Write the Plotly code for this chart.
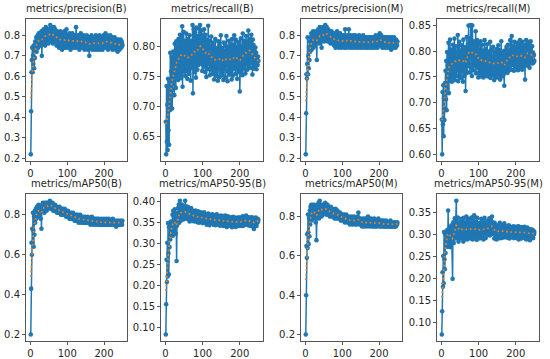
import numpy as np
import plotly.graph_objects as go

titles = ["metrics/precision(B)", "metrics/recall(B)", "metrics/precision(M)", "metrics/recall(M)",
          "metrics/mAP50(B)", "metrics/mAP50-95(B)", "metrics/mAP50(M)", "metrics/mAP50-95(M)"]

epochs = list(range(1, 251))

precision_B = [
0.22,0.43,0.62,0.68,0.74,0.62,0.70,0.66,0.75,0.64,0.72,0.69,0.77,0.73,0.76,0.79,0.72,0.78,0.75,0.80,0.74,0.78,0.81,0.76,0.79,
0.77,0.80,0.75,0.79,0.82,0.70,0.78,0.81,0.76,0.80,0.83,0.77,0.79,0.82,0.75,0.80,0.84,0.78,0.81,0.77,0.83,0.79,0.82,0.76,0.80,
0.83,0.78,0.81,0.85,0.79,0.84,0.80,0.77,0.83,0.81,0.76,0.82,0.79,0.84,0.78,0.80,0.83,0.77,0.81,0.79,0.75,0.82,0.78,0.80,0.76,
0.81,0.78,0.74,0.80,0.77,0.82,0.75,0.79,0.76,0.81,0.73,0.78,0.80,0.75,0.79,0.77,0.82,0.74,0.78,0.76,0.80,0.74,0.83,0.77,0.79,
0.75,0.80,0.76,0.78,0.74,0.81,0.77,0.79,0.73,0.80,0.76,0.78,0.75,0.81,0.77,0.74,0.79,0.76,0.80,0.75,0.78,0.77,0.74,0.84,0.76,
0.79,0.75,0.78,0.74,0.80,0.76,0.78,0.73,0.77,0.79,0.75,0.81,0.76,0.78,0.74,0.79,0.77,0.75,0.80,0.76,0.78,0.73,0.77,0.79,0.75,
0.78,0.74,0.80,0.76,0.77,0.73,0.79,0.75,0.78,0.70,0.76,0.79,0.74,0.77,0.75,0.80,0.76,0.73,0.78,0.75,0.79,0.74,0.77,0.76,0.73,
0.78,0.75,0.80,0.74,0.77,0.76,0.73,0.79,0.75,0.78,0.74,0.76,0.80,0.73,0.77,0.75,0.79,0.74,0.77,0.76,0.73,0.78,0.75,0.80,0.74,
0.77,0.79,0.75,0.81,0.76,0.74,0.78,0.80,0.75,0.77,0.73,0.79,0.76,0.78,0.74,0.77,0.80,0.75,0.78,0.74,0.76,0.79,0.73,0.77,0.75,
0.78,0.74,0.76,0.79,0.75,0.77,0.73,0.76,0.78,0.74,0.77,0.72,0.75,0.78,0.74,0.76,0.73,0.77,0.75,0.78,0.76,0.74,0.77,0.76,0.75]

recall_B = [
0.675,0.621,0.734,0.642,0.703,0.628,0.746,0.661,0.718,0.637,0.741,0.694,0.789,0.702,0.758,0.716,0.783,0.697,0.752,0.728,0.791,0.738,0.772,0.719,0.804,
0.757,0.793,0.731,0.808,0.768,0.749,0.801,0.776,0.744,0.812,0.763,0.787,0.752,0.819,0.771,0.803,0.747,0.814,0.781,0.833,0.733,0.798,0.766,0.824,0.758,
0.792,0.809,0.751,0.803,0.768,0.821,0.759,0.788,0.746,0.812,0.779,0.762,0.806,0.754,0.818,0.773,0.791,0.743,0.809,0.764,0.799,0.782,0.835,0.722,0.803,
0.828,0.768,0.812,0.757,0.823,0.786,0.748,0.831,0.779,0.802,0.761,0.817,0.793,0.769,0.829,0.797,0.776,0.835,0.788,0.814,0.771,0.826,0.801,0.759,0.818,
0.794,0.807,0.766,0.828,0.781,0.803,0.757,0.819,0.788,0.749,0.811,0.776,0.798,0.762,0.834,0.786,0.771,0.809,0.752,0.799,0.783,0.761,0.816,0.769,0.792,
0.754,0.806,0.779,0.763,0.801,0.745,0.787,0.772,0.812,0.758,0.784,0.751,0.797,0.768,0.791,0.743,0.808,0.762,0.779,0.802,0.749,0.793,0.766,0.818,0.757,
0.781,0.797,0.752,0.789,0.771,0.744,0.806,0.763,0.792,0.776,0.748,0.801,0.768,0.817,0.759,0.787,0.742,0.782,0.798,0.761,0.809,0.753,0.784,0.772,0.803,
0.758,0.791,0.745,0.812,0.769,0.751,0.802,0.779,0.763,0.818,0.771,0.793,0.754,0.811,0.783,0.762,0.799,0.746,0.788,0.773,0.807,0.757,0.784,0.801,0.725,
0.789,0.767,0.813,0.758,0.798,0.781,0.752,0.821,0.774,0.792,0.763,0.809,0.786,0.803,0.755,0.794,0.817,0.772,0.801,0.761,0.808,0.779,0.826,0.768,0.803,
0.791,0.812,0.764,0.801,0.783,0.819,0.772,0.796,0.753,0.811,0.778,0.802,0.763,0.793,0.771,0.765,0.798,0.774,0.789,0.762,0.781,0.774,0.769,0.783,0.776]

precision_M = [
0.22,0.42,0.61,0.59,0.66,0.79,0.61,0.70,0.64,0.74,0.68,0.77,0.72,0.79,0.75,0.81,0.73,0.78,0.80,0.76,0.82,0.74,0.79,0.77,0.81,
0.75,0.80,0.78,0.82,0.76,0.68,0.79,0.81,0.77,0.83,0.78,0.80,0.76,0.84,0.79,0.81,0.77,0.83,0.74,0.80,0.82,0.78,0.84,0.79,0.81,
0.77,0.83,0.80,0.85,0.78,0.82,0.80,0.84,0.79,0.81,0.77,0.83,0.80,0.78,0.82,0.79,0.81,0.76,0.80,0.78,0.82,0.77,0.79,0.81,0.76,
0.80,0.78,0.75,0.81,0.77,0.79,0.74,0.80,0.76,0.78,0.82,0.75,0.79,0.77,0.80,0.74,0.78,0.76,0.81,0.75,0.79,0.77,0.74,0.80,0.76,
0.78,0.75,0.80,0.76,0.79,0.74,0.77,0.83,0.75,0.79,0.77,0.74,0.80,0.76,0.78,0.75,0.79,0.83,0.76,0.78,0.74,0.80,0.77,0.75,0.79,
0.76,0.78,0.74,0.80,0.77,0.75,0.79,0.76,0.78,0.74,0.80,0.77,0.75,0.79,0.76,0.78,0.74,0.79,0.77,0.75,0.80,0.76,0.78,0.74,0.79,
0.77,0.75,0.79,0.76,0.78,0.74,0.80,0.77,0.75,0.78,0.76,0.79,0.74,0.77,0.79,0.75,0.78,0.76,0.74,0.79,0.77,0.75,0.78,0.76,0.79,
0.74,0.77,0.79,0.75,0.78,0.76,0.74,0.79,0.77,0.75,0.78,0.76,0.79,0.74,0.77,0.80,0.75,0.78,0.76,0.79,0.74,0.77,0.75,0.78,0.80,
0.76,0.81,0.77,0.79,0.75,0.80,0.76,0.78,0.74,0.79,0.77,0.75,0.78,0.76,0.79,0.74,0.77,0.79,0.75,0.78,0.76,0.74,0.79,0.77,0.75,
0.78,0.76,0.79,0.74,0.77,0.75,0.78,0.73,0.76,0.79,0.75,0.77,0.74,0.78,0.76,0.79,0.75,0.77,0.76,0.74,0.78,0.76,0.77,0.75,0.77]

recall_M = [
0.668,0.601,0.721,0.659,0.734,0.636,0.709,0.667,0.738,0.689,0.762,0.707,0.781,0.686,0.798,0.728,0.772,0.751,0.816,0.719,0.791,0.757,0.822,0.743,0.779,
0.758,0.803,0.741,0.789,0.768,0.812,0.749,0.782,0.761,0.824,0.744,0.793,0.771,0.809,0.752,0.784,0.798,0.763,0.831,0.742,0.792,0.769,0.818,0.751,0.801,
0.773,0.788,0.748,0.811,0.762,0.779,0.803,0.741,0.822,0.768,0.794,0.752,0.807,0.764,0.723,0.799,0.781,0.827,0.758,0.793,0.812,0.771,0.849,0.776,0.803,
0.759,0.824,0.787,0.850,0.768,0.809,0.752,0.849,0.781,0.798,0.763,0.819,0.791,0.772,0.812,0.779,0.838,0.757,0.803,0.786,0.821,0.768,0.797,0.749,0.814,
0.779,0.758,0.802,0.767,0.819,0.751,0.793,0.771,0.812,0.756,0.784,0.801,0.749,0.792,0.769,0.821,0.757,0.781,0.804,0.752,0.788,0.766,0.813,0.759,0.782,
0.751,0.799,0.768,0.791,0.757,0.818,0.748,0.776,0.802,0.761,0.789,0.772,0.753,0.808,0.764,0.783,0.744,0.799,0.771,0.793,0.752,0.781,0.762,0.804,0.749,
0.788,0.769,0.811,0.753,0.782,0.761,0.802,0.745,0.791,0.773,0.819,0.758,0.784,0.751,0.799,0.767,0.792,0.756,0.733,0.781,0.801,0.762,0.789,0.771,0.808,
0.766,0.791,0.758,0.812,0.779,0.798,0.763,0.787,0.772,0.821,0.781,0.803,0.764,0.829,0.788,0.773,0.809,0.779,0.801,0.762,0.818,0.786,0.771,0.808,0.782,
0.797,0.769,0.816,0.781,0.792,0.763,0.811,0.779,0.802,0.768,0.821,0.787,0.772,0.813,0.778,0.799,0.764,0.818,0.789,0.776,0.809,0.771,0.802,0.783,0.745,
0.812,0.779,0.821,0.791,0.803,0.772,0.818,0.788,0.809,0.779,0.801,0.768,0.812,0.786,0.819,0.777,0.798,0.784,0.809,0.776,0.797,0.789,0.778,0.793,0.781]

mAP50_B = [
0.20,0.43,0.66,0.60,0.73,0.66,0.81,0.72,0.64,0.79,0.70,0.82,0.76,0.80,0.83,0.78,0.82,0.84,0.79,0.83,0.81,0.85,0.80,0.83,0.82,
0.84,0.81,0.78,0.83,0.73,0.82,0.85,0.83,0.86,0.82,0.84,0.85,0.81,0.86,0.84,0.83,0.85,0.86,0.82,0.85,0.84,0.86,0.83,0.85,0.84,
0.86,0.84,0.87,0.85,0.83,0.86,0.84,0.85,0.83,0.86,0.84,0.82,0.85,0.83,0.84,0.82,0.85,0.83,0.84,0.82,0.83,0.81,0.84,0.82,0.83,
0.81,0.83,0.82,0.84,0.81,0.83,0.82,0.80,0.83,0.81,0.82,0.80,0.83,0.81,0.82,0.80,0.81,0.83,0.80,0.82,0.81,0.79,0.82,0.80,0.81,
0.80,0.82,0.79,0.81,0.80,0.78,0.81,0.79,0.80,0.78,0.81,0.79,0.80,0.78,0.79,0.81,0.78,0.80,0.79,0.77,0.80,0.78,0.79,0.77,0.80,
0.78,0.79,0.77,0.80,0.78,0.76,0.79,0.77,0.78,0.80,0.77,0.78,0.76,0.79,0.77,0.78,0.76,0.79,0.77,0.78,0.76,0.78,0.77,0.79,0.76,
0.78,0.77,0.76,0.78,0.77,0.79,0.76,0.78,0.77,0.76,0.78,0.77,0.75,0.78,0.76,0.77,0.79,0.76,0.77,0.75,0.78,0.76,0.77,0.78,0.76,
0.77,0.75,0.78,0.76,0.77,0.76,0.78,0.75,0.77,0.76,0.78,0.75,0.77,0.76,0.75,0.77,0.76,0.78,0.75,0.77,0.76,0.75,0.77,0.76,0.78,
0.75,0.77,0.76,0.75,0.77,0.76,0.78,0.75,0.76,0.77,0.75,0.76,0.78,0.76,0.75,0.77,0.76,0.75,0.77,0.76,0.75,0.77,0.76,0.78,0.75,
0.76,0.77,0.75,0.76,0.77,0.75,0.76,0.74,0.77,0.76,0.75,0.77,0.76,0.75,0.77,0.76,0.75,0.76,0.77,0.75,0.76,0.77,0.76,0.75,0.77]

mAP50_95_B = [
0.083,0.155,0.261,0.208,0.301,0.221,0.348,0.276,0.226,0.338,0.291,0.346,0.309,0.351,0.322,0.341,0.352,0.328,0.368,0.318,0.377,0.337,0.362,0.331,0.381,
0.348,0.372,0.323,0.361,0.258,0.342,0.371,0.352,0.384,0.358,0.392,0.349,0.373,0.401,0.362,0.383,0.354,0.371,0.392,0.361,0.379,0.366,0.388,0.357,0.381,
0.368,0.359,0.401,0.376,0.362,0.388,0.371,0.379,0.358,0.373,0.386,0.361,0.377,0.366,0.352,0.381,0.359,0.372,0.384,0.357,0.369,0.353,0.378,0.361,0.372,
0.358,0.376,0.352,0.369,0.361,0.378,0.354,0.367,0.359,0.351,0.372,0.356,0.376,0.349,0.368,0.358,0.351,0.371,0.357,0.374,0.352,0.363,0.369,0.348,0.361,
0.367,0.353,0.362,0.374,0.349,0.368,0.357,0.351,0.369,0.358,0.344,0.366,0.352,0.361,0.371,0.348,0.362,0.343,0.368,0.354,0.359,0.367,0.349,0.362,0.351,
0.369,0.352,0.358,0.344,0.367,0.351,0.362,0.348,0.366,0.343,0.358,0.352,0.369,0.347,0.361,0.345,0.357,0.351,0.364,0.349,0.358,0.342,0.353,0.366,0.348,
0.359,0.343,0.354,0.365,0.348,0.357,0.341,0.352,0.362,0.347,0.366,0.343,0.358,0.349,0.339,0.361,0.351,0.364,0.342,0.353,0.358,0.344,0.351,0.362,0.347,
0.341,0.358,0.349,0.338,0.361,0.347,0.363,0.342,0.353,0.359,0.344,0.352,0.361,0.339,0.354,0.358,0.346,0.341,0.359,0.351,0.343,0.362,0.348,0.341,0.357,
0.351,0.343,0.359,0.348,0.362,0.341,0.353,0.364,0.349,0.342,0.361,0.352,0.358,0.344,0.363,0.351,0.366,0.347,0.359,0.352,0.361,0.343,0.354,0.362,0.349,
0.358,0.347,0.341,0.359,0.351,0.362,0.343,0.352,0.361,0.348,0.339,0.357,0.334,0.351,0.359,0.342,0.353,0.361,0.348,0.341,0.357,0.349,0.358,0.352,0.356]

mAP50_M = [
0.20,0.40,0.65,0.59,0.71,0.64,0.81,0.72,0.66,0.79,0.70,0.83,0.76,0.85,0.80,0.86,0.78,0.84,0.81,0.86,0.79,0.84,0.82,0.86,0.80,
0.85,0.81,0.77,0.84,0.68,0.82,0.86,0.80,0.85,0.83,0.87,0.79,0.84,0.88,0.82,0.85,0.83,0.86,0.80,0.84,0.82,0.86,0.81,0.85,0.83,
0.84,0.86,0.82,0.87,0.83,0.85,0.81,0.84,0.82,0.86,0.83,0.81,0.85,0.82,0.84,0.80,0.83,0.81,0.85,0.82,0.80,0.83,0.81,0.84,0.80,
0.82,0.81,0.83,0.79,0.82,0.80,0.84,0.81,0.79,0.82,0.80,0.83,0.81,0.79,0.82,0.80,0.81,0.79,0.82,0.80,0.78,0.81,0.79,0.80,0.78,
0.81,0.79,0.80,0.78,0.81,0.79,0.77,0.80,0.78,0.79,0.81,0.78,0.80,0.77,0.79,0.78,0.80,0.77,0.79,0.78,0.76,0.79,0.78,0.80,0.77,
0.79,0.78,0.76,0.79,0.77,0.78,0.80,0.77,0.78,0.76,0.79,0.77,0.78,0.76,0.79,0.77,0.80,0.78,0.82,0.77,0.79,0.76,0.78,0.77,0.79,
0.76,0.78,0.77,0.75,0.78,0.76,0.79,0.77,0.75,0.78,0.76,0.77,0.79,0.76,0.78,0.75,0.77,0.76,0.78,0.80,0.76,0.78,0.77,0.75,0.78,
0.76,0.77,0.79,0.76,0.78,0.75,0.77,0.76,0.78,0.75,0.77,0.79,0.76,0.77,0.75,0.78,0.76,0.77,0.75,0.78,0.76,0.77,0.79,0.76,0.77,
0.75,0.78,0.76,0.77,0.75,0.76,0.78,0.76,0.77,0.75,0.76,0.78,0.75,0.77,0.76,0.75,0.77,0.76,0.78,0.75,0.76,0.77,0.75,0.76,0.77,
0.75,0.76,0.77,0.75,0.76,0.78,0.75,0.76,0.77,0.75,0.76,0.75,0.77,0.76,0.75,0.76,0.77,0.75,0.76,0.77,0.75,0.76,0.77,0.76,0.77]

mAP50_95_M = [
0.072,0.125,0.214,0.181,0.251,0.189,0.306,0.244,0.221,0.302,0.258,0.307,0.283,0.298,0.287,0.311,0.272,0.355,0.291,0.309,0.279,0.318,0.301,0.271,0.312,
0.289,0.321,0.282,0.304,0.199,0.313,0.328,0.281,0.322,0.298,0.337,0.291,0.314,0.331,0.377,0.302,0.318,0.293,0.339,0.308,0.284,0.327,0.299,0.321,0.292,
0.328,0.302,0.336,0.291,0.314,0.329,0.298,0.322,0.284,0.338,0.309,0.297,0.327,0.292,0.318,0.301,0.341,0.311,0.289,0.331,0.302,0.319,0.293,0.336,0.308,
0.299,0.327,0.291,0.318,0.307,0.339,0.298,0.321,0.289,0.332,0.309,0.297,0.344,0.292,0.321,0.306,0.329,0.301,0.318,0.288,0.338,0.309,0.326,0.298,0.317,
0.308,0.291,0.327,0.302,0.319,0.306,0.336,0.293,0.318,0.301,0.329,0.311,0.289,0.322,0.303,0.338,0.309,0.317,0.292,0.328,0.307,0.299,0.321,0.311,0.331,
0.302,0.319,0.309,0.337,0.298,0.323,0.311,0.334,0.301,0.321,0.341,0.309,0.328,0.302,0.319,0.308,0.291,0.327,0.311,0.299,0.318,0.306,0.289,0.321,0.302,
0.317,0.306,0.291,0.322,0.301,0.311,0.327,0.298,0.316,0.292,0.309,0.301,0.321,0.308,0.293,0.318,0.302,0.311,0.326,0.299,0.312,0.294,0.319,0.303,0.311,
0.298,0.317,0.293,0.309,0.301,0.321,0.307,0.291,0.312,0.299,0.318,0.303,0.311,0.294,0.316,0.301,0.309,0.298,0.319,0.292,0.308,0.301,0.317,0.306,0.299,
0.311,0.292,0.318,0.301,0.309,0.298,0.319,0.289,0.312,0.302,0.308,0.316,0.297,0.311,0.291,0.317,0.306,0.299,0.312,0.293,0.309,0.301,0.318,0.298,0.309,
0.301,0.311,0.289,0.309,0.298,0.316,0.302,0.309,0.291,0.311,0.299,0.308,0.287,0.302,0.312,0.297,0.293,0.309,0.301,0.311,0.298,0.292,0.308,0.301,0.306]

series = [precision_B, recall_B, precision_M, recall_M, mAP50_B, mAP50_95_B, mAP50_M, mAP50_95_M]

x_ticks = [0, 100, 200]
y_ticks = [
    [0.2, 0.3, 0.4, 0.5, 0.6, 0.7, 0.8],
    [0.65, 0.70, 0.75, 0.80],
    [0.2, 0.3, 0.4, 0.5, 0.6, 0.7, 0.8],
    [0.60, 0.65, 0.70, 0.75, 0.80, 0.85],
    [0.2, 0.4, 0.6, 0.8],
    [0.10, 0.15, 0.20, 0.25, 0.30, 0.35, 0.40],
    [0.2, 0.4, 0.6, 0.8],
    [0.10, 0.15, 0.20, 0.25, 0.30, 0.35],
]
y_fmt = [".1f", ".2f", ".1f", ".2f", ".1f", ".2f", ".1f", ".2f"]


def gauss_smooth(y, sigma=3):
    r = int(4 * sigma + 0.5)
    k = np.exp(-0.5 * (np.arange(-r, r + 1) / sigma) ** 2)
    k /= k.sum()
    yp = np.pad(np.asarray(y, float), r, mode="symmetric")
    return np.convolve(yp, k, mode="valid")


W, H = 550, 359
x_px = [(26, 127), (161, 263), (301, 402), (437, 539)]
y_px = [(19, 164), (198, 348)]

fig = go.Figure()
layout = dict(width=W, height=H, margin=dict(l=0, r=0, t=0, b=0),
              paper_bgcolor="white", plot_bgcolor="white", showlegend=False,
              font=dict(family="DejaVu Sans", size=10, color="#262626"))
annotations = []
xr = [1 - 0.05 * 249 - 0.5, 250 + 0.05 * 249]
for i, y in enumerate(series):
    row, col = divmod(i, 4)
    n = i + 1
    xa = "x" if n == 1 else f"x{n}"
    ya = "y" if n == 1 else f"y{n}"
    fig.add_trace(go.Scatter(x=epochs, y=y, mode="lines+markers", xaxis=xa, yaxis=ya,
                             line=dict(color="#1f77b4", width=1.5),
                             marker=dict(color="#1f77b4", size=4.6)))
    fig.add_trace(go.Scatter(x=epochs, y=gauss_smooth(y), mode="lines", xaxis=xa, yaxis=ya,
                             line=dict(color="#ff7f0e", width=1.7, dash="1.6px,2.8px")))
    lo, hi = min(y), max(y)
    pad = 0.05 * (hi - lo)
    x0, x1 = x_px[col]
    t, b = y_px[row]
    axis_common = dict(showline=True, linecolor="#555555", linewidth=1, mirror=True,
                       ticks="outside", ticklen=3, tickcolor="#555555", showgrid=False,
                       zeroline=False, tickfont=dict(size=10, color="#262626"))
    layout["xaxis" if n == 1 else f"xaxis{n}"] = dict(
        domain=[x0 / W, x1 / W], range=xr, anchor=ya, tickvals=x_ticks, **axis_common)
    layout["yaxis" if n == 1 else f"yaxis{n}"] = dict(
        domain=[1 - b / H, 1 - t / H], range=[lo - pad, hi + pad], anchor=xa,
        tickvals=y_ticks[i], tickformat=y_fmt[i], **axis_common)
    annotations.append(dict(text=titles[i], x=(x0 + x1) / 2 / W, y=1 - t / H + 3 / H,
                            xref="paper", yref="paper", xanchor="center", yanchor="bottom",
                            showarrow=False, font=dict(size=10, color="#262626")))
layout["annotations"] = annotations
fig.update_layout(**layout)
# remove the default page margin so the 550x359 figure fills the window exactly
fig.write_html("out.html", config={"displayModeBar": False},
               post_script="document.body.style.margin='0';document.body.style.overflow='hidden';")
